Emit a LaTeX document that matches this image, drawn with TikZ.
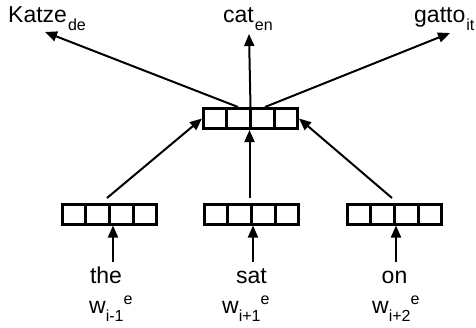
\documentclass[tikz,border=0pt]{standalone}
\usepackage{fontspec}
\setmainfont{Liberation Sans}
\usetikzlibrary{arrows.meta,calc}
\newcommand\mysub[1]{\raisebox{-8.5pt}{\fontsize{16}{16}\selectfont #1}}
\newcommand\mysup[1]{\raisebox{9pt}{\fontsize{16}{16}\selectfont #1}}
\begin{document}
\begin{tikzpicture}[x=1pt,y=-1pt,
  vec/.style={draw, line width=3pt, minimum width=94pt, minimum height=20pt, inner sep=0pt},
  conn/.style={line width=2pt, -{Triangle[length=12pt,width=10pt]}},
  big/.style={font=\fontsize{23}{25}\selectfont, inner sep=0pt}
]
\useasboundingbox (0,0) rectangle (476,327);

% vectors
\node[vec] (vt) at (250.5,118.5) {};
\node[vec] (vl) at (109.5,214) {};
\node[vec] (vm) at (251.5,214) {};
\node[vec] (vr) at (394.5,214) {};
\foreach \n in {vt,vl,vm,vr}{
  \foreach \f in {0.25,0.5,0.75}{
    \draw[line width=3pt] ($(\n.north west)!\f!(\n.north east)$) -- ($(\n.south west)!\f!(\n.south east)$);
  }
}

% output labels
\node[big, anchor=base west] (katze) at (8,22) {Katze\kern1pt\mysub{de}};
\node[big, anchor=base west] (cat) at (223,22) {cat\kern1pt\mysub{en}};
\node[big, anchor=base west] (gatto) at (414,22) {gatto\kern1pt\mysub{it}};

% input words
\node[big, anchor=base] (the) at (106,283) {the};
\node[big, anchor=base] (sat) at (251.5,283) {sat};
\node[big, anchor=base] (on) at (394.5,283) {on};

\node[big, anchor=base west] (w1) at (89,313) {w\mysub{i-1}\mysup{e}};
\node[big, anchor=base west] (w2) at (222,313) {w\mysub{i+1}\mysup{e}};
\node[big, anchor=base west] (w3) at (372,313) {w\mysub{i+2}\mysup{e}};

% input arrows
\coordinate (i1) at (113,262);
\coordinate (i2) at (253,262);
\coordinate (i3) at (396,262);
\draw[conn] (i1) -- (i1 |- vl.south);
\draw[conn] (i2) -- (i2 |- vm.south);
\draw[conn] (i3) -- (i3 |- vr.south);

% bottom vectors to top vector
\coordinate (s1) at (107,198);
\coordinate (s2) at (249.5,198);
\coordinate (s3) at (392,198);
\draw[conn] (s1) -- (vt.west);
\draw[conn] (s2) -- (s2 |- vt.south);
\draw[conn] (s3) -- (vt.east);

% top vector to outputs
\coordinate (o1) at (238,107);
\coordinate (o2) at (250.5,107);
\coordinate (o3) at (265,107);
\coordinate (t1) at (45,32);
\coordinate (t2) at (249,34);
\coordinate (t3) at (450,33);
\draw[conn] (o1) -- (t1);
\draw[conn] (o2) -- (t2);
\draw[conn] (o3) -- (t3);
\end{tikzpicture}
\end{document}
